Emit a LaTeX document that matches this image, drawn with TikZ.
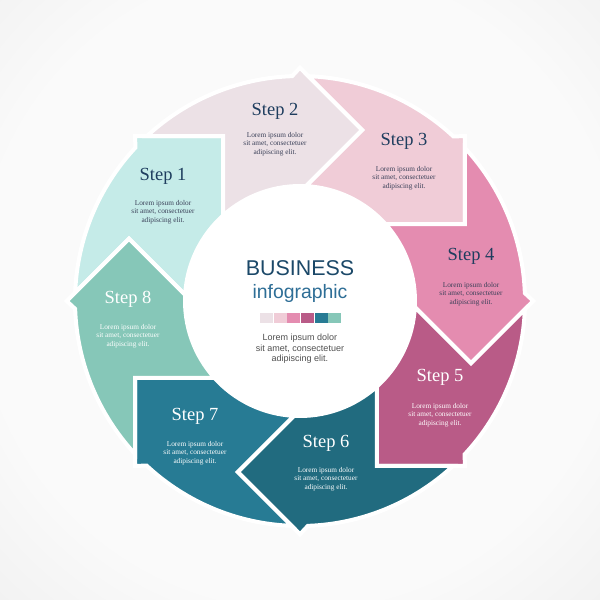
\documentclass[tikz,border=0pt]{standalone}
\usepackage{fontspec}
\setmainfont{Liberation Serif}
\newfontfamily\sansf{Liberation Sans}
\definecolor{bgin}{HTML}{FAFAFA}
\definecolor{bgout}{HTML}{D4D4D4}
\definecolor{c1}{HTML}{C5EBE8}
\definecolor{c2}{HTML}{ECE1E6}
\definecolor{c3}{HTML}{F0CCD7}
\definecolor{c4}{HTML}{E48CB0}
\definecolor{c5}{HTML}{B95B87}
\definecolor{c6}{HTML}{216B7F}
\definecolor{c7}{HTML}{277B94}
\definecolor{c8}{HTML}{86C7B8}
\definecolor{navy}{HTML}{1E3D5E}
\definecolor{lordark}{HTML}{3A4058}
\definecolor{busi}{HTML}{1B4868}
\definecolor{infog}{HTML}{2E6E96}
\definecolor{centlor}{HTML}{505050}
\pgfdeclareradialshading{bgshade}{\pgfpoint{0bp}{0bp}}{color(0bp)=(bgin); color(18bp)=(bgin); color(50bp)=(bgout)}
\newcommand\ringseg[2]{%
  \filldraw[seg, fill=#2] ({#1+62.85}:225pt) arc[start angle={#1+62.85}, end angle={#1+22}, radius=225pt]
    -- ({#1+20}:233.3pt) -- (#1:182pt) -- ({#1+16.97}:115pt)
    arc[start angle={#1+16.97}, end angle={#1+61.97}, radius=115pt]
    -- ({#1+45}:182pt) -- cycle;}
\begin{document}
\begin{tikzpicture}[x=1pt,y=1pt,
  seg/.style={draw=white, line width=4pt, line join=miter},
  ttl/.style={font=\fontsize{18.5}{20}\selectfont, inner sep=0pt},
  lor/.style={font=\fontsize{7.3}{8.7}\selectfont, align=center, inner sep=0pt},
  sq/.style={minimum width=13pt, minimum height=10pt, inner sep=0pt, draw=none}]
\useasboundingbox (-300,-299) rectangle (300,301);
\clip (-300,-299) rectangle (300,301);
\fill[bgout] (-300,-299) rectangle (300,301);
\shade[shading=bgshade] (0,15) circle (440pt);
% ring segments
\ringseg{115}{c1}
\ringseg{70}{c2}
\ringseg{25}{c3}
\ringseg{-20}{c4}
\ringseg{-65}{c5}
\ringseg{-110}{c6}
\ringseg{-155}{c7}
\ringseg{160}{c8}
% centre disc
\fill[white] (0,0) circle (114pt);
% step texts
\node[ttl, text=navy] (t1) at (-137,125) {Step 1};
\node[lor, text=lordark] (l1) at (-137,89) {Lorem ipsum dolor\\sit amet, consectetuer\\adipiscing elit.};
\node[ttl, text=navy] (t2) at (-25,190) {Step 2};
\node[lor, text=lordark] (l2) at (-25,157) {Lorem ipsum dolor\\sit amet, consectetuer\\adipiscing elit.};
\node[ttl, text=navy] (t3) at (104,160) {Step 3};
\node[lor, text=lordark] (l3) at (104,123) {Lorem ipsum dolor\\sit amet, consectetuer\\adipiscing elit.};
\node[ttl, text=navy] (t4) at (171,45) {Step 4};
\node[lor, text=lordark] (l4) at (171,7) {Lorem ipsum dolor\\sit amet, consectetuer\\adipiscing elit.};
\node[ttl, text=white] (t5) at (140,-76) {Step 5};
\node[lor, text=white] (l5) at (140,-114) {Lorem ipsum dolor\\sit amet, consectetuer\\adipiscing elit.};
\node[ttl, text=white] (t6) at (26,-142) {Step 6};
\node[lor, text=white] (l6) at (26,-178) {Lorem ipsum dolor\\sit amet, consectetuer\\adipiscing elit.};
\node[ttl, text=white] (t7) at (-105,-115) {Step 7};
\node[lor, text=white] (l7) at (-105,-152) {Lorem ipsum dolor\\sit amet, consectetuer\\adipiscing elit.};
\node[ttl, text=white] (t8) at (-172,2) {Step 8};
\node[lor, text=white] (l8) at (-172,-35) {Lorem ipsum dolor\\sit amet, consectetuer\\adipiscing elit.};
% centre texts
\node[anchor=base, inner sep=0pt, text=busi, font=\sansf\fontsize{21.4}{24}\selectfont] (bus) at (0,26) {BUSINESS};
\node[anchor=base, inner sep=0pt, text=infog, font=\sansf\fontsize{19.4}{22}\selectfont] (inf) at (0,3) {infographic};
\node[sq, fill=c2] (s1) at (-33.2,-17.3) {};
\node[sq, fill=c3] (s2) at (-19.6,-17.3) {};
\node[sq, fill=c4] (s3) at (-6.0,-17.3) {};
\node[sq, fill=c5] (s4) at (7.6,-17.3) {};
\node[sq, fill=c7] (s5) at (21.2,-17.3) {};
\node[sq, fill=c8] (s6) at (34.8,-17.3) {};
\node[inner sep=0pt, align=center, text=centlor, font=\sansf\fontsize{9}{10.5}\selectfont] (cl) at (0,-48) {Lorem ipsum dolor\\sit amet, consectetuer\\adipiscing elit.};
\end{tikzpicture}
\end{document}
